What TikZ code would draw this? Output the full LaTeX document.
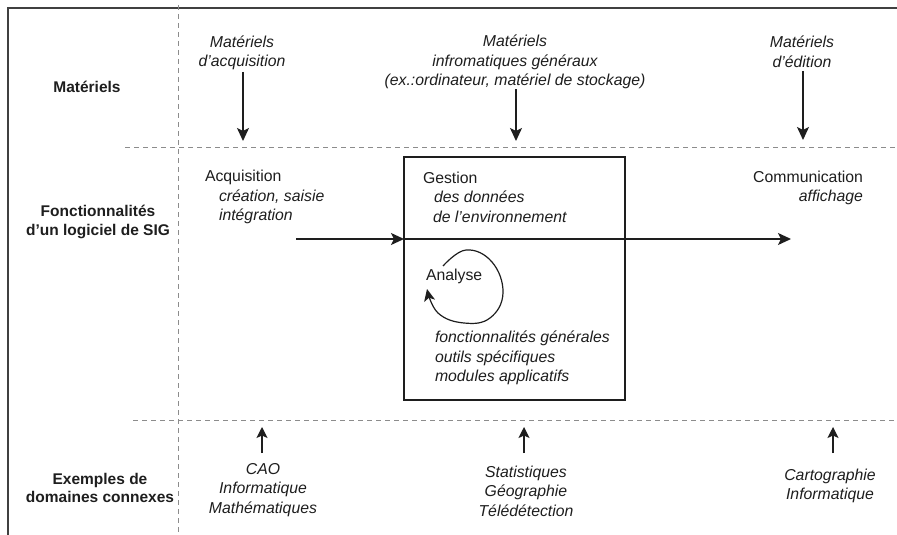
\documentclass[tikz,border=0pt]{standalone}
\usepackage{fontspec}
\setmainfont{Liberation Sans}
\usetikzlibrary{arrows.meta}
\definecolor{ink}{HTML}{1E1E1E}
\definecolor{dashgray}{HTML}{8C8C8C}
\begin{document}
\begin{tikzpicture}[x=1pt,y=-1pt,
  every node/.style={inner sep=0pt, outer sep=0pt, text=ink, font=\fontsize{15.8pt}{19.5pt}\selectfont},
  head/.style={font=\fontsize{15.5pt}{18.5pt}\selectfont\bfseries, align=center},
  itc/.style={font=\fontsize{15.8pt}{19.5pt}\selectfont\itshape, align=center},
  sep/.style={draw=dashgray, line width=1pt, dash pattern=on 5pt off 4pt},
  frame/.style={draw=ink!85, line width=1.6pt},
  arrbig/.style={draw=ink, line width=1.4pt, -{Stealth[length=13pt,width=12pt,inset=3pt]}},
  arrsmall/.style={draw=ink, line width=1.3pt, -{Stealth[length=11pt,width=11pt,inset=2.5pt]}},
  looparr/.style={draw=ink, line width=1.2pt, -{Stealth[length=12pt,width=11pt,inset=3pt]}},
  boxst/.style={draw=ink, line width=1.3pt, minimum width=221pt, minimum height=243pt}]
\useasboundingbox (0,0) rectangle (897,535);
\fill[white] (0,0) rectangle (897,535);
% frame
\draw[frame] (8,535) -- (8,8) -- (897,8);
% separators
\draw[sep] (178,5) -- (178,535);
\draw[sep] (125,147) -- (897,147);
\draw[sep] (133,420) -- (897,420);
% row headings
\node[head] (mat) at (87,87) {Matériels};
\node[head] (fonc) at (98,222) {Fonctionnalités\\d’un logiciel de SIG};
\node[head] (ex) at (100,488) {Exemples de\\domaines connexes};
% top row
\node[itc] (macq) at (242,53) {Matériels\\d’acquisition};
\node[itc] (minf) at (515,62) {Matériels\\infromatiques généraux\\(ex.:ordinateur, matériel de stockage)};
\node[itc] (medit) at (802,52) {Matériels\\d’édition};
\coordinate (t1a) at (243,72);  \coordinate (t1b) at (243,141);
\coordinate (t2a) at (516,89);  \coordinate (t2b) at (516,141);
\coordinate (t3a) at (803,71);  \coordinate (t3b) at (803,140);
\draw[arrbig] (t1a) -- (t1b);
\draw[arrbig] (t2a) -- (t2b);
\draw[arrbig] (t3a) -- (t3b);
% middle row
\node[align=left, anchor=west] (acq) at (205,197) {Acquisition\\\hspace*{14pt}\textit{création, saisie}\\\hspace*{14pt}\textit{intégration}};
\node[boxst] (box) at (514.5,278.5) {};
\node[align=left, anchor=west] (gest) at (423,197) {Gestion\\\hspace*{11pt}\textit{des données}\\\hspace*{10pt}\textit{de l’environnement}};
\node[align=right, anchor=east] (comm) at (863,188) {Communication\\\textit{affichage}};
\node[anchor=west] (ana) at (426,276) {Analyse};
\node[align=left, anchor=west, font=\fontsize{15.8pt}{19.5pt}\selectfont\itshape] (fct) at (435,358) {fonctionnalités générales\\outils spécifiques\\modules applicatifs};
\coordinate (ms) at (296,239);
\coordinate (bl) at (404,239);
\coordinate (me) at (791,239);
\draw[arrbig] (ms) -- (bl);
\draw[arrbig] (bl) -- (me);
\draw[looparr] plot[smooth, tension=0.7] coordinates {(443,266) (466,250) (492,262) (503,293) (490,318) (464,323) (438,313) (427,289)};
% bottom row
\node[itc] (cao) at (263,490) {CAO\\Informatique\\Mathématiques};
\node[itc] (stat) at (526,491) {Statistiques\\Géographie\\Télédétection};
\node[itc] (carto) at (830,486) {Cartographie\\Informatique};
\coordinate (b1a) at (262,453); \coordinate (b1b) at (262,427);
\coordinate (b2a) at (524,453); \coordinate (b2b) at (524,427);
\coordinate (b3a) at (833,453); \coordinate (b3b) at (833,427);
\draw[arrsmall] (b1a) -- (b1b);
\draw[arrsmall] (b2a) -- (b2b);
\draw[arrsmall] (b3a) -- (b3b);
\end{tikzpicture}
\end{document}
